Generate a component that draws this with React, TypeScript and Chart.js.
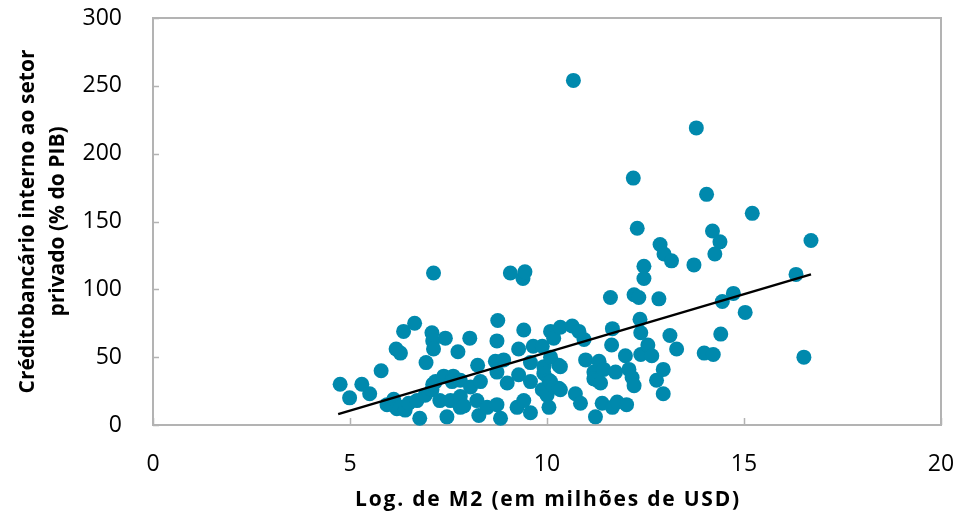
import React, { useEffect, useRef } from "react";
import { Chart, registerables } from "chart.js";

Chart.register(...registerables);

const xValues = [
  4.75, 4.99, 5.3, 5.5, 5.79, 5.94, 6.11, 6.19, 6.28, 6.4, 6.49, 6.17, 6.28, 6.36, 6.64, 6.7, 6.77, 6.91, 6.93, 7.08,
  7.1, 7.12, 7.12, 7.08, 7.1, 7.17, 7.28, 7.38, 7.42, 7.46, 7.55, 7.62, 7.59, 7.74, 7.8, 7.8, 7.8, 7.89, 8.04, 8.06,
  8.22, 8.24, 8.27, 8.31, 8.48, 8.69, 8.73, 8.73, 8.73, 8.75, 8.82, 8.9, 8.99, 9.07, 9.24, 9.28, 9.28, 9.39, 9.41, 9.41,
  9.44, 9.58, 9.58, 9.58, 9.65, 9.88, 9.92, 9.92, 9.88, 10.0, 10.05, 10.05, 10.09, 10.09, 10.09, 10.17, 10.17, 10.3, 10.3, 10.34,
  10.34, 10.34, 10.64, 10.67, 10.72, 10.81, 10.85, 10.94, 10.98, 11.19, 11.19, 11.23, 11.27, 11.32, 11.36, 11.4, 11.44, 11.61, 11.64, 11.66,
  11.66, 11.74, 11.78, 11.99, 12.02, 12.08, 12.16, 12.19, 12.21, 12.21, 12.29, 12.33, 12.36, 12.38, 12.38, 12.46, 12.46, 12.56, 12.66, 12.78,
  12.84, 12.87, 12.95, 12.95, 12.97, 13.12, 13.16, 13.29, 13.73, 13.79, 13.99, 14.05, 14.2, 14.22, 14.26, 14.39, 14.41, 14.45, 14.73, 15.03,
  15.21, 16.32, 16.52, 16.7,
];

const yValues = [
  30, 20, 30, 23, 40, 15, 19, 12, 13, 11, 16, 56, 53, 69, 75, 18, 5, 22, 46, 68,
  62, 56, 112, 26, 30, 32, 18, 36, 64, 6, 18, 36, 32, 54, 13, 21, 33, 14, 64, 28,
  18, 44, 7, 32, 13, 47, 62, 39, 15, 77, 5, 48, 31, 112, 13, 56, 37, 108, 70, 18,
  113, 46, 32, 9, 58, 58, 43, 38, 26, 22, 33, 13, 69, 50, 32, 64, 28, 44, 27, 72,
  43, 26, 73, 254, 23, 69, 16, 63, 48, 39, 34, 6, 33, 47, 31, 16, 41, 94, 59, 71,
  13, 39, 17, 51, 15, 41, 35, 182, 29, 96, 145, 94, 78, 68, 52, 117, 108, 59, 51, 33,
  93, 133, 41, 23, 126, 66, 121, 56, 118, 219, 53, 170, 143, 52, 126, 135, 67, 91, 97, 83,
  156, 111, 50, 136,
];

const trendX = [4.7, 16.7];
const trendY = [8, 111];

const xTicks = [0, 5, 10, 15, 20];
const yTicks = [0, 50, 100, 150, 200, 250, 300];

const xTitle = "Log. de M2 (em milhões de USD)";
const yTitle = ["Créditobancário interno ao setor", "privado (% do PIB)"];

const FONT = "'Open Sans', 'Noto Sans', sans-serif";
const AXIS_GRAY = "#b3b3b3";
const DOT = "#0089ad";

const frame = {
  id: "frame",
  beforeDatasetsDraw(chart: any) {
    const { ctx, chartArea: a, scales } = chart;
    ctx.save();
    ctx.strokeStyle = AXIS_GRAY;
    ctx.lineWidth = 2;
    ctx.strokeRect(a.left, a.top, a.right - a.left, a.bottom - a.top);
    ctx.lineWidth = 1.5;
    ctx.beginPath();
    xTicks.forEach((v) => {
      const px = Math.round(scales.x.getPixelForValue(v)) + 0.5;
      ctx.moveTo(px, a.bottom);
      ctx.lineTo(px, a.bottom - 7);
    });
    yTicks.forEach((v) => {
      const py = Math.round(scales.y.getPixelForValue(v)) + 0.5;
      ctx.moveTo(a.left, py);
      ctx.lineTo(a.left + 6, py);
    });
    ctx.stroke();
    ctx.restore();
  },
  afterDraw(chart: any) {
    const { ctx, chartArea: a } = chart;
    ctx.save();
    ctx.fillStyle = "#000";
    ctx.font = `bold 21px ${FONT}`;
    (ctx as any).letterSpacing = "1.8px";
    ctx.textAlign = "center";
    ctx.textBaseline = "middle";
    ctx.fillText(xTitle, (a.left + a.right) / 2 + 1, 500);
    ctx.restore();
  },
};

export default function App() {
  const ref = useRef<HTMLCanvasElement | null>(null);

  useEffect(() => {
    if (!ref.current) return;
    const points = xValues.map((x, i) => ({ x, y: yValues[i] }));
    const trend = trendX.map((x, i) => ({ x, y: trendY[i] }));
    const chart = new Chart(ref.current, {
      type: "scatter",
      data: {
        datasets: [
          {
            type: "line",
            data: trend,
            borderColor: "#000000",
            borderWidth: 2.5,
            pointRadius: 0,
            fill: false,
            clip: false,
          } as any,
          {
            data: points,
            backgroundColor: DOT,
            borderWidth: 0,
            pointRadius: 7.5,
            pointHoverRadius: 7.5,
            clip: false,
          } as any,
        ],
      },
      options: {
        animation: false,
        responsive: false,
        maintainAspectRatio: false,
        events: [],
        layout: { padding: { top: 18, right: 22, left: 0, bottom: 0 } },
        plugins: { legend: { display: false }, tooltip: { enabled: false } },
        scales: {
          x: {
            type: "linear",
            min: 0,
            max: 20,
            afterFit: (s: any) => {
              s.height = 99;
              s.paddingLeft = 0;
              s.paddingRight = 0;
            },
            afterBuildTicks: (s: any) => {
              s.ticks = xTicks.map((v) => ({ value: v }));
            },
            grid: { display: false, drawTicks: false },
            border: { display: false },
            ticks: {
              color: "#000",
              padding: 26,
              maxRotation: 0,
              font: { family: FONT, size: 23 },
            },
            title: { display: false },
          },
          y: {
            type: "linear",
            min: 0,
            max: 300,
            afterFit: (s: any) => {
              s.width = 153;
              s.paddingTop = 0;
              s.paddingBottom = 0;
            },
            afterBuildTicks: (s: any) => {
              s.ticks = yTicks.map((v) => ({ value: v }));
            },
            grid: { display: false, drawTicks: false },
            border: { display: false },
            ticks: {
              color: "#000",
              padding: 31,
              font: { family: FONT, size: 23 },
            },
            title: {
              display: true,
              text: yTitle,
              color: "#000",
              font: { family: FONT, size: 21, weight: "bold", lineHeight: 1.43 },
              padding: { top: 13, bottom: 0 },
            },
          },
        },
      },
      plugins: [frame],
    });
    return () => chart.destroy();
  }, []);

  return (
    <div style={{ position: "absolute", left: 0, top: 0, width: 963, height: 524, background: "#fff" }}>
      <canvas ref={ref} width={963} height={524} style={{ width: 963, height: 524, display: "block" }} />
    </div>
  );
}
